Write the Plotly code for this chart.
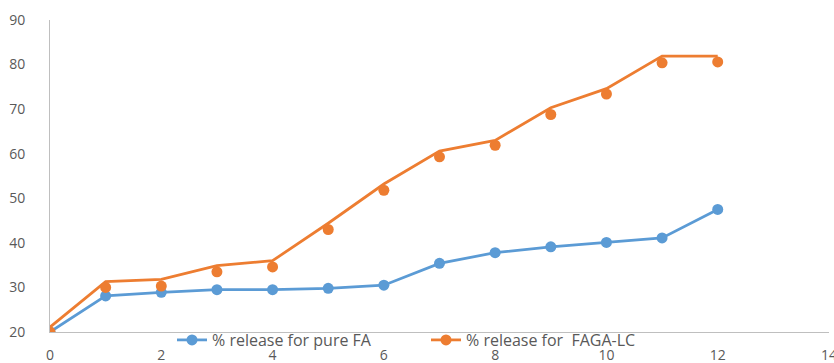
import plotly.graph_objects as go

# Time points (h)
time = [0, 1, 2, 3, 4, 5, 6, 7, 8, 9, 10, 11, 12]

# % drug release, pure FA
pure_fa = [20.0, 28.1, 28.9, 29.5, 29.5, 29.8, 30.5, 35.4, 37.8, 39.1, 40.1, 41.1, 47.5]

# % drug release, FAGA-LC: measured points and the connecting trend line
faga_points = [20.0, 30.0, 30.3, 33.5, 34.6, 43.0, 51.8, 59.3, 61.9, 68.8, 73.4, 80.4, 80.6]
faga_line = [21.1, 31.3, 31.8, 34.9, 36.0, 44.4, 53.2, 60.6, 63.0, 70.3, 74.6, 81.9, 81.9]

x_ticks = [0, 2, 4, 6, 8, 10, 12, 14]
y_ticks = [20, 30, 40, 50, 60, 70, 80, 90]

BLUE = "#5B9BD5"
ORANGE = "#ED7D31"
TEXT = "#595959"
AXIS = "#BFBFBF"

fig = go.Figure()

fig.add_trace(go.Scatter(
    x=time, y=pure_fa, mode="lines+markers", name="% release for pure FA",
    line=dict(color=BLUE, width=2.75), marker=dict(color=BLUE, size=11),
))

fig.add_trace(go.Scatter(
    x=time, y=faga_line, mode="lines", showlegend=False,
    line=dict(color=ORANGE, width=2.75), hoverinfo="skip",
))
fig.add_trace(go.Scatter(
    x=time, y=faga_points, mode="markers", showlegend=False,
    marker=dict(color=ORANGE, size=11),
))
# legend entry for the FAGA-LC series (line + marker symbol)
fig.add_trace(go.Scatter(
    x=[None], y=[None], mode="lines+markers", name="% release for\u00a0 FAGA-LC",
    line=dict(color=ORANGE, width=2.75), marker=dict(color=ORANGE, size=11),
))

fig.update_layout(
    width=834, height=363,
    margin=dict(l=50, r=5, t=20, b=31, autoexpand=False),
    paper_bgcolor="white", plot_bgcolor="white",
    font=dict(family="Open Sans", size=14, color=TEXT),
    showlegend=True,
    legend=dict(
        orientation="h", x=(172 - 50) / 779, xanchor="left", y=-8 / 312, yanchor="middle",
        bgcolor="rgba(0,0,0,0)", font=dict(size=16, color=TEXT),
        entrywidth=209, entrywidthmode="pixels", tracegroupgap=0,
    ),
)

fig.update_xaxes(
    range=[0, 14], tickvals=x_ticks, ticktext=[str(v) for v in x_ticks],
    showgrid=False, zeroline=False, showline=True, linecolor=AXIS, linewidth=1,
    ticks="", ticklabelstandoff=10, ticklabeloverflow="allow", automargin=False,
    tickfont=dict(size=14, color=TEXT),
)
fig.update_yaxes(
    range=[20, 90], tickvals=y_ticks, ticktext=[str(v) for v in y_ticks],
    showgrid=False, zeroline=False, showline=True, linecolor=AXIS, linewidth=1,
    ticks="", ticklabelstandoff=21, automargin=False,
    tickfont=dict(size=14, color=TEXT),
)

fig.write_html("out.html")
